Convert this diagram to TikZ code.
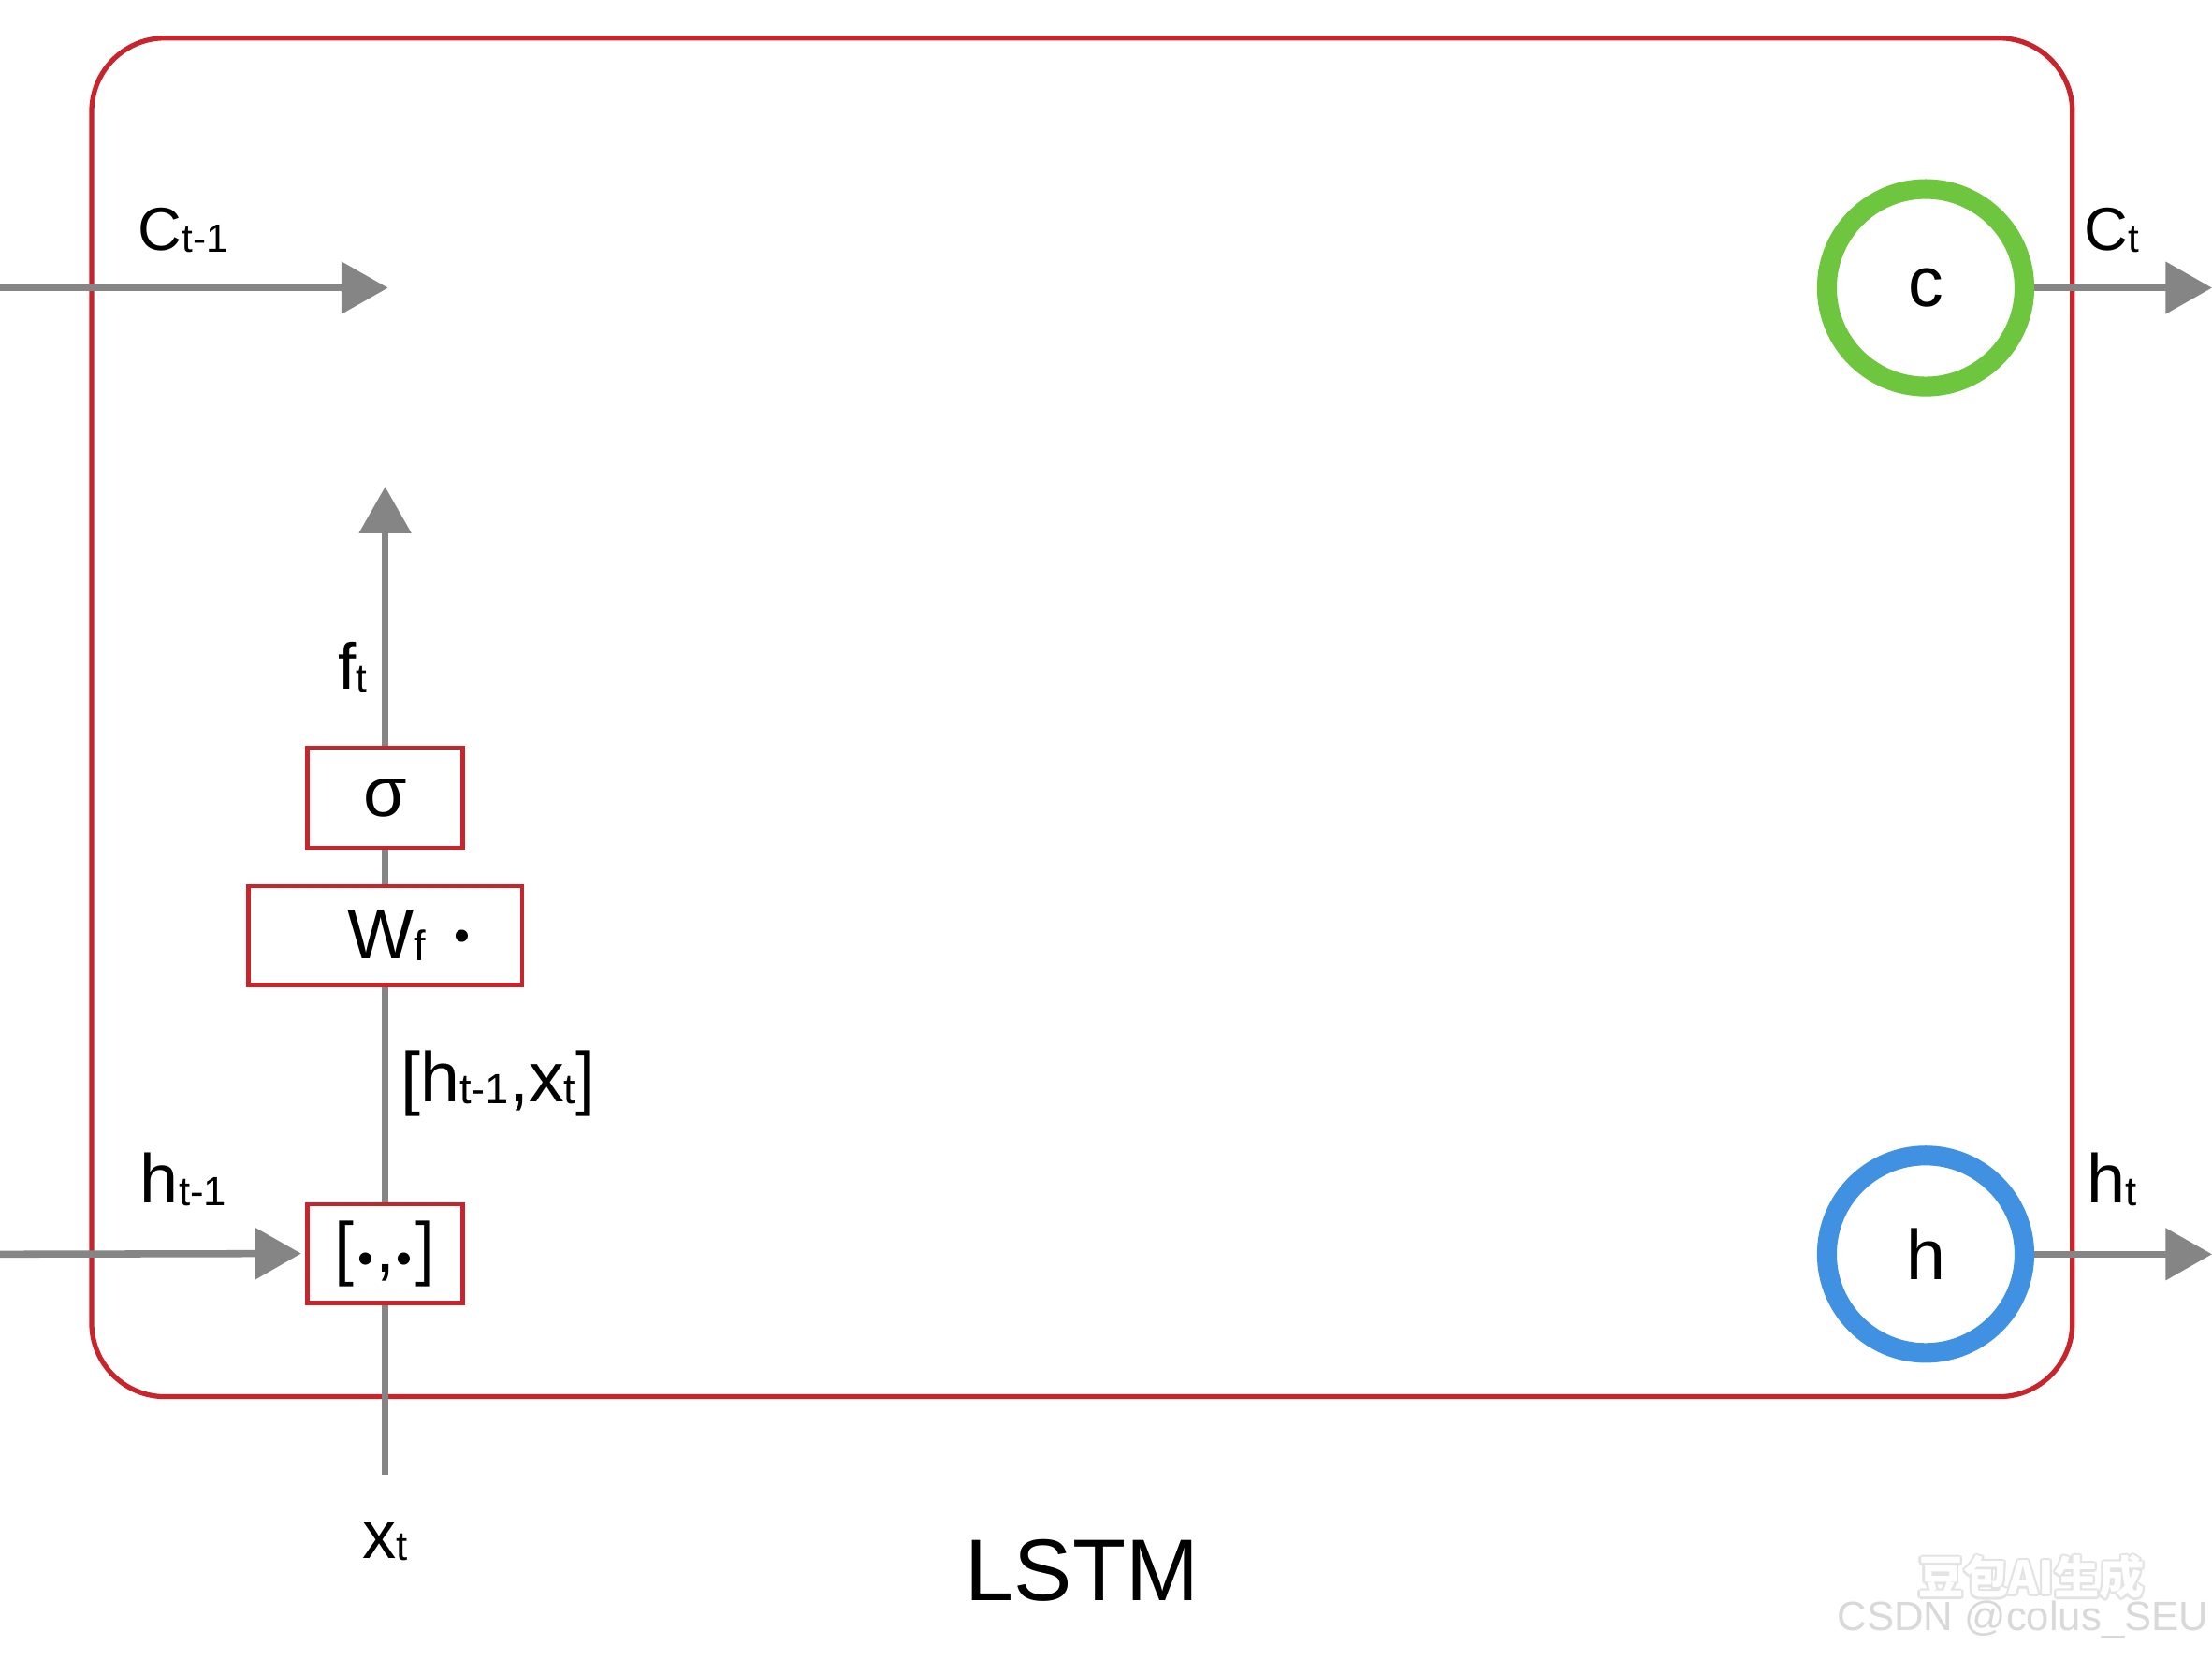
\documentclass[tikz,border=0pt]{standalone}
\usepackage{fontspec}
\setmainfont{Liberation Sans}
\newfontfamily\cjkfont{Noto Sans CJK SC}
\usetikzlibrary{arrows.meta}
\definecolor{boxred}{HTML}{C8242C}
\definecolor{arrowgray}{HTML}{858585}
\definecolor{ringgreen}{HTML}{6DC63E}
\definecolor{ringblue}{HTML}{4191E2}
\newcommand{\fs}[1]{\fontsize{#1}{#1}\selectfont}
\newcommand{\sbs}[2]{\raisebox{-1.5pt}{\fs{#1}#2}}
\newcommand{\bdot}[1]{\raisebox{#1}{\fs{32}•}}
\tikzset{
  conn/.style={draw=arrowgray, line width=5pt},
  arr/.style={conn, -{Triangle[length=33pt,width=36pt]}, arrowgray},
  opbox/.style={draw=boxred, line width=3pt, fill=white, inner sep=0pt, minimum height=70pt},
  ring/.style={circle, line width=14pt, minimum size=140pt, fill=white, inner sep=0pt, font=\fs{50}},
  lbl/.style={inner sep=0pt, text=black},
}
\begin{document}
\begin{tikzpicture}[x=1pt,y=-1pt]
\useasboundingbox[fill=white] (0,0) rectangle (1568,1176);
% frame
\draw[boxred, line width=3.5pt, rounded corners=52pt] (65,27) rectangle (1469,990);

% coordinates
\coordinate (cin) at (0,204);
\coordinate (cmid) at (275,204);
\coordinate (hin) at (0,889);
\coordinate (cout) at (1568,204);
\coordinate (hout) at (1568,889);
\coordinate (xbot) at (273,1045);
\coordinate (ftop) at (273,345);

% nodes
\node[opbox, minimum width=110pt, font=\fs{50}] (cat) at (273,888.5) {[\hspace{3pt}\bdot{-1.5pt}\hspace{1pt},\hspace{1pt}\bdot{-1.5pt}\hspace{3pt}]};
\node[opbox, minimum width=194pt, font=\fs{50}] (wf) at (273,663) {\hspace{34pt}W\sbs{30}{f}\hspace{20pt}\bdot{5.5pt}};
\node[opbox, minimum width=110pt, minimum height=71pt, font=\fs{50}] (sig) at (273,565.5) {σ};
\node[ring, draw=ringgreen] (cc) at (1365,204) {c};
\node[ring, draw=ringblue] (hc) at (1365,889) {h};

% connectors
\draw[arr] (cin) -- (cmid);
\draw[arr, shorten >=3pt] (hin) -- (cat.west);
\draw[conn] (xbot) -- (cat.south);
\draw[conn] (cat.north) -- (wf.south);
\draw[conn] (wf.north) -- (sig.south);
\draw[arr] (sig.north) -- (ftop);
\draw[arr] (cc.east) -- (cout);
\draw[arr] (hc.east) -- (hout);

% labels
\node[lbl, font=\fs{43}] (lct1) at (130,163) {C\sbs{28}{t-1}};
\node[lbl, font=\fs{43}] (lct) at (1497,163) {C\sbs{28}{t}};
\node[lbl, font=\fs{49}] (lht1) at (130,836) {h\sbs{29}{t-1}};
\node[lbl, font=\fs{49}] (lht) at (1497,836) {h\sbs{29}{t}};
\node[lbl, font=\fs{46}] (lft) at (250,473) {f\sbs{28}{t}};
\node[lbl, font=\fs{50}, anchor=west] (lhx) at (284,768) {[h\sbs{30}{t-1},x\sbs{30}{t}]};
\node[lbl, font=\fs{48}] (lxt) at (273,1093) {x\sbs{29}{t}};
\node[lbl, font=\fs{62}] (ltitle) at (767,1113) {LSTM};

% watermark
\foreach \dx/\dy [count=\i] in {1.5/0,-1.5/0,0/1.5,0/-1.5,1.2/1.2,-1.2/1.2,1.2/-1.2,-1.2/-1.2}{
  \node[lbl, font=\cjkfont\bfseries\fs{32}, text=gray!22] (wmh\i) at (1440+\dx,1118+\dy) {豆包AI生成};
}
\node[lbl, font=\cjkfont\bfseries\fs{32}, text=white] (wm) at (1440,1118) {豆包AI生成};
\node[lbl, font=\fs{29}, text=gray!30] (csdn) at (1434,1148) {CSDN @colus\_SEU};
\end{tikzpicture}
\end{document}
